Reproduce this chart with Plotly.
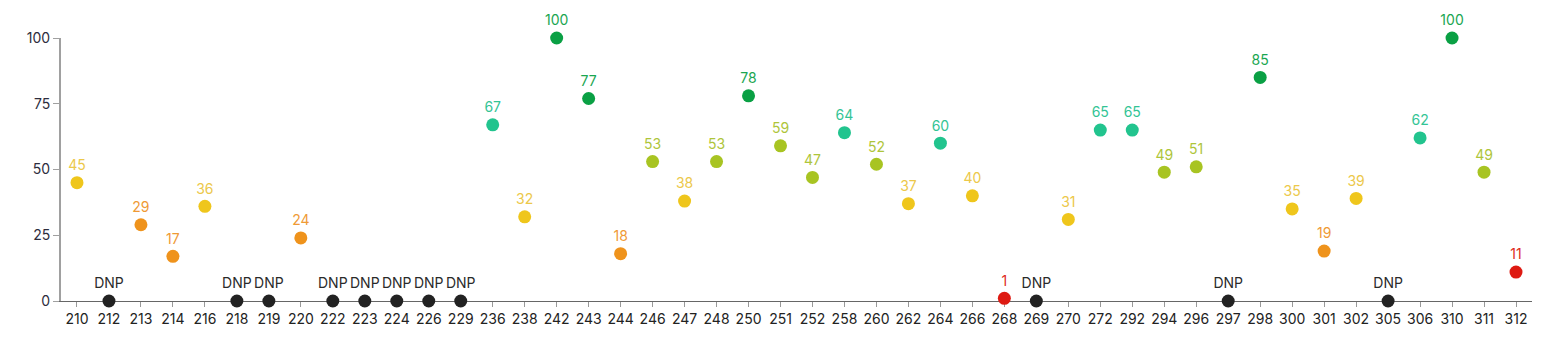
import plotly.graph_objects as go

categories = ["210", "212", "213", "214", "216", "218", "219", "220", "222", "223",
              "224", "226", "229", "236", "238", "242", "243", "244", "246", "247",
              "248", "250", "251", "252", "258", "260", "262", "264", "266", "268",
              "269", "270", "272", "292", "294", "296", "297", "298", "300", "301",
              "302", "305", "306", "310", "311", "312"]
scores = [45, None, 29, 17, 36, None, None, 24, None, None,
          None, None, None, 67, 32, 100, 77, 18, 53, 38,
          53, 78, 59, 47, 64, 52, 37, 60, 40, 1,
          None, 31, 65, 65, 49, 51, None, 85, 35, 19,
          39, None, 62, 100, 49, 11]
y_ticks = [0, 25, 50, 75, 100]
dnp_label = "DNP"


def color_for(v):
    if v is None:
        return ("#222222", "#2a2a2a")
    if v < 15:
        return ("#de1a12", "#de2a20")
    if v < 30:
        return ("#ef931c", "#ef9a36")
    if v < 46:
        return ("#efc61c", "#ecc84a")
    if v < 60:
        return ("#a8c422", "#aec53a")
    if v < 70:
        return ("#22c48e", "#33c495")
    return ("#0aa044", "#1aa651")


ys = [0 if v is None else v for v in scores]
texts = [dnp_label if v is None else str(v) for v in scores]
mcolors = [color_for(v)[0] for v in scores]
tcolors = [color_for(v)[1] for v in scores]

fig = go.Figure()
fig.add_trace(go.Scatter(
    x=categories, y=ys, mode="markers+text",
    text=texts, textposition="top center",
    textfont=dict(color=tcolors, size=14, family="Inter"),
    marker=dict(color=mcolors, size=13, line=dict(width=0)),
    cliponaxis=False, hoverinfo="skip",
))

fig.update_layout(
    width=1549, height=344,
    margin=dict(l=61, r=17, t=38, b=43),
    paper_bgcolor="white", plot_bgcolor="white",
    showlegend=False,
    font=dict(family="Inter", size=14, color="#333333"),
    xaxis=dict(
        type="category", range=[-0.5, len(categories) - 0.5],
        showgrid=False, zeroline=False, layer="below traces",
        showline=True, linecolor="#666666", linewidth=1,
        ticks="outside", ticklen=5, tickcolor="#999999", tickwidth=1,
        tickfont=dict(size=14, color="#222222"),
    ),
    yaxis=dict(
        range=[0, 100], tickvals=y_ticks, layer="below traces",
        showgrid=False, zeroline=False,
        showline=True, linecolor="#a0a0a0", linewidth=2,
        ticks="outside", ticklen=6, tickcolor="#a0a0a0", tickwidth=1,
        tickfont=dict(size=14, color="#2d2d3d"),
    ),
)

fig.write_html("out.html")
